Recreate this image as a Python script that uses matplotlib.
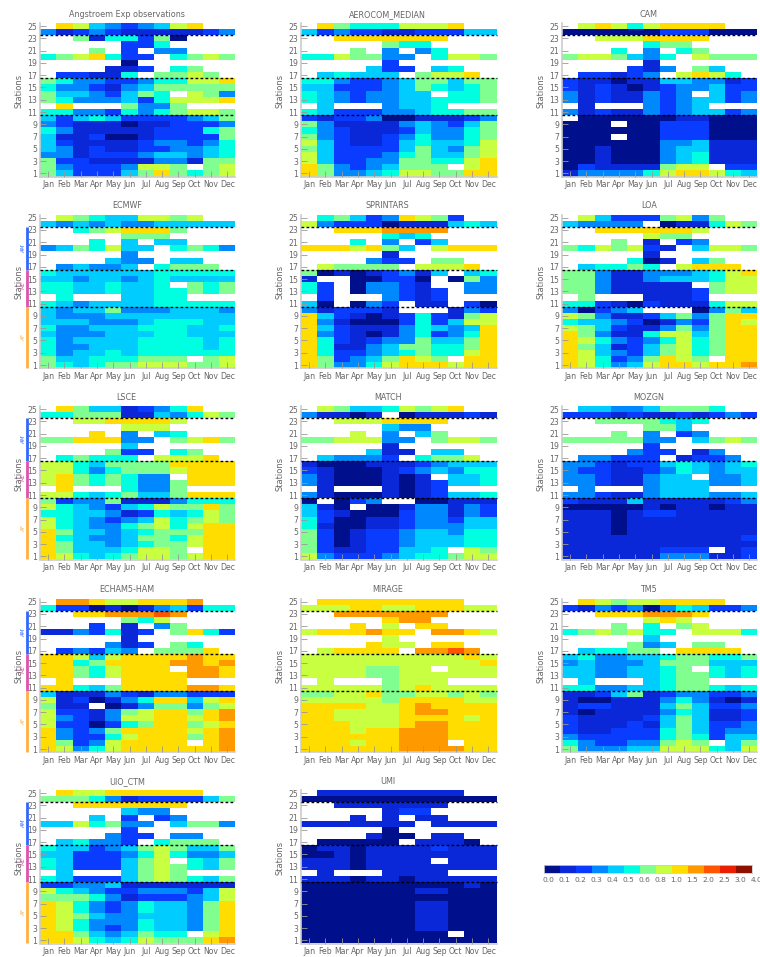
import numpy as np
import matplotlib
matplotlib.use("Agg")
import matplotlib.pyplot as plt
from matplotlib.colors import ListedColormap, BoundaryNorm

# Colour class of each cell, station 25 (top) down to station 1, Jan..Dec
# 0-9 and a are classes of the colour bar, . is no data
obs = [".874323478..", "312321111123", "..6155260...", ".....225....", "...6.2.33...",
       "5678522.5676", ".....0......", "....112.56..", ".22115.6676.", "653322355778",
       "533213466666", "64432465.763", "653334257778", ".8...6336...", "553325356776",
       "424542222346", "321110112223", "531111122256", "411200122226", "421111233235",
       "431211223345", "331222344345", "622111133166", "632223776.67", "642224686567"]
median = [".865557778..", "423221122244", "..8888888...", ".....655....", "...6.3.35...",
          "5576633.5776", ".....2......", "....422.45..", ".45444.6778.", "553223466466",
          "442223465456", "54323344.556", "543233445556", ".4...3445...", "542223345566",
          "212230011123", "631111343246", "532111243356", "632112353356", "742112454457",
          "642222464367", "742223564467", "742233665578", "863234666.78", "863345776688"]
cam = [".787578888..", "000000222000", "..7778888...", ".....566....", "...5.3.56...",
       "6776435.7666", ".....1......", "....213.64..", ".22123.7875.", "211011443312",
       "212101233422", "31211323.423", "312113234423", ".1...3234...", "312113234423",
       ".00000011000", "000.00222000", "000000222000", "000.00222000", "000000334111",
       "001000344111", "001000345111", "001000345111", "021111677.22", "133335788754"]
ecmwf = [".765447767..", "434343344444", "..5678886...", ".....666....", "...5.4.44...",
         "3465744.5653", ".....3......", "....433.44..", ".34334.5666.", "544444455555",
         "443443454444", "55445445.656", "554454455656", ".5...4455...", "543444455555",
         "434463334443", "433344444444", "444333455544", "533444555445", "433344455444",
         "534444555545", "533444555545", "534454555555", "644555666.67", "654566777667"]
sprintars = [".564238762..", "732220111454", "..8889999...", ".....545....", "...5.3.24...",
             "8887864.7888", ".....1......", "....322.66..", ".76666.7778.", "601012314.45",
             "1..00220.063", "52.03321..33", "52.033212.33", ".2...3212...", "40.032.11.20",
             "312221...132", "842101252167", "831000252477", "842111354348", "832101352358",
             "852123364468", "851134665568", "852234565578", "862346876.88", "863357888788"]
loa = [".742226736..", "43333.011576", "..8888887...", ".....766....", "...6.1.23...",
       "6576721.4776", ".....1......", "....501.46..", ".45565.7888.", "663113334578",
       "663113444577", "66311111.677", "663111112677", ".6...1112...", "552102111577",
       "30234...0364", "763112463688", "544320132687", "764211363688", "863115774688",
       "875323575688", "864124675688", "874324675688", "875236876.88", "875347887889"]
lsce = [".864412358..", "556661143576", "..7788887...", ".....777....", "...8.3.45...",
        "6688833.6786", ".....4......", "....622.56..", ".56555.7778.", "775466668888",
        "775356667888", "78656533.888", "786565336888", ".8...5336...", "775456446888",
        "623361113555", "754324576686", "554431254576", "754323475676", "754335675788",
        "864434566688", "854334665788", "864434566788", "864445776.88", "875456776788"]
match = [".764457678..", "31101.011121", "..7778888...", ".....433....", "...7.3.46...",
         "6677733.6776", ".....1......", "....411.44..", ".43332.5667.", "100011123444",
         "210001234355", "31000101.445", "310001012445", ".1...1012...", "310001012445",
         "0.023..00111", "410.00133132", "421000233132", "520011233244", "510011233344",
         "620122344355", "620122344455", "620122344455", "621122445.76", "732223455677"]
mozgn = [".443346665..", "222121121232", "..6666545...", ".....664....", "...6.3.23...",
         "6666633.4676", ".....2......", "....322.13..", ".33222.1223.", "332122454345",
         "322112354344", "33211344.334", "332113444334", ".3...3444...", "332113444334",
         "211141111123", "000001011011", "111012211111", "111011111111", "111011111111",
         "111011111111", "111111111112", "111111111111", "111111222.12", "111111333112"]
echam = [".998778889..", "522010134255", "..88999a9...", ".....657....", "...2.1.36...",
         "1132512.6852", ".....1......", "....312.65..", ".23243.6668.", "887478888988",
         "885688889989", "88657888.998", "886578888998", ".8...8888...", "885468888998",
         "411132133222", "712013588478", "611.01366367", "722136788689", "732137788789",
         "722025688678", "832368888789", "832257888689", "862378888.89", "873578888889"]
mirage = [".888888888..", "777887788877", "..9999999...", ".....899....", "...8.7.88...",
          "7888988.9987", ".....7......", "....877.88..", ".78888.99a9.", "777777777787",
          "777777777778", "77776677.777", "777766777777", ".7...6777...", "777776787777",
          "667786677676", "777776888877", "888877898888", "887777899888", "887777888878",
          "888777899888", "888788999888", "888888999888", "888788999.88", "888888999988"]
tm5 = [".876778888..", "213230354223", "..8889998...", ".....787....", "...6.5.67...",
       "5676755.7775", ".....4......", "....634.66..", ".45566.8888.", "453344566556",
       "343334666444", "44334456.545", "443344566545", ".4...4566...", "553344566545",
       "112461233223", "100111353101", "122111464223", "101111354112", "211112464112",
       "211121464223", "211222564233", "322222565244", "532233676.46", "633344777547"]
uio = [".877888888..", "666531222246", "..8888888...", ".....433....", "...4.2.23...",
       "4475633.4663", ".....2......", "....322.33..", ".45332.5666.", "544234676446",
       "442223575334", "54222467.546", "542224676546", ".4...4676...", "542224676546",
       "223341111111", "754322333247", "666531222347", "875323544368", "875323544368",
       "876433444368", "875333544368", "875323544368", "886434655.78", "887545766689"]
umi = [".111111111..", "000000000000", "..1111111...", ".....122....", "...1.1.11...",
       "1111111.1111", ".....0......", "....100.11..", ".00000.1110.", "011011112111",
       "001011111111", "11101111.111", "111011111111", ".1...1111...", "111011011111",
       "000000000010", "000000011000", "000000000000", "000000011000", "000000011000",
       "000000011000", "000000011000", "000000011000", "000000000.00", "000000000000"]

titles = ["Angstroem Exp observations", "AEROCOM_MEDIAN", "CAM", "ECMWF", "SPRINTARS", "LOA",
          "LSCE", "MATCH", "MOZGN", "ECHAM5-HAM", "MIRAGE", "TM5", "UIO_CTM", "UMI"]
panels = [obs, median, cam, ecmwf, sprintars, loa, lsce, match, mozgn, echam, mirage, tm5, uio, umi]
months = ["Jan", "Feb", "Mar", "Apr", "May", "Jun", "Jul", "Aug", "Sep", "Oct", "Nov", "Dec"]
bar_labels = ["0.0", "0.1", "0.2", "0.3", "0.4", "0.5", "0.6", "0.8", "1.0", "1.5", "2.0", "2.5", "3.0", "4.0"]
bar_colors = ["#000f8c", "#0a28d8", "#0a3cff", "#0088ff", "#00ccff", "#00ffe0", "#80ff90",
              "#c8ff40", "#ffdd00", "#ff9900", "#ff5500", "#e82000", "#901000"]
regions = [("AM", 16.5, 23.5, 20, "#3068ff"), ("ME", 10.5, 16.5, 14, "#e050b0"), ("AF", 0.5, 10.5, 5.5, "#ffb040")]
separators = [10.5, 16.5, 23.5]

W, H = 760, 957
GREY = "#666666"
cmap = ListedColormap(bar_colors)
norm = BoundaryNorm(np.arange(14) - 0.5, cmap.N)
cmap.set_bad("white")

# pixel boxes of the panel grid
col_left = [40, 301, 562]
row_top = [23, 214.6, 406, 598.6, 790]
ax_w, ax_h = 195.5, 153.5


def parse(rows):
    grid = [[np.nan if c == "." else int(c, 16) for c in r] for r in rows]
    return np.ma.masked_invalid(np.array(grid, dtype=float)[::-1])


fig = plt.figure(figsize=(W / 100, H / 100), dpi=100)
x_edges = np.arange(13) + 0.5
y_edges = np.arange(26) + 0.5

for i, (name, rows) in enumerate(zip(titles, panels)):
    r, c = divmod(i, 3)
    ax = fig.add_axes([col_left[c] / W, 1 - (row_top[r] + ax_h) / H, ax_w / W, ax_h / H])
    ax.pcolormesh(x_edges, y_edges, parse(rows), cmap=cmap, norm=norm)
    for y in separators:
        ax.plot([0.5, 12.5], [y, y], color="black", lw=1, dashes=(2, 1.6), clip_on=False, zorder=5)
    ax.set_xlim(0.5, 12.5)
    ax.set_ylim(0.5, 25.5)
    ax.set_xticks(np.arange(1, 13))
    ax.set_xticklabels(months)
    ax.set_yticks(np.arange(1, 26, 2))
    ax.tick_params(direction="in", length=4, width=0.6, color="#999999", labelcolor=GREY,
                   labelsize=5.6, pad=2)
    ax.tick_params(axis="x", pad=2.5)
    ax.set_axisbelow(False)
    for side in ["top", "right"]:
        ax.spines[side].set_visible(False)
    for side in ["left", "bottom"]:
        ax.spines[side].set_color("#cccccc")
        ax.spines[side].set_linewidth(1.2)
    ax.set_title(name, x=0.444, pad=4.5, fontsize=5.8, color=GREY)
    ax.set_ylabel("Stations", fontsize=6, color=GREY, y=0.56, labelpad=3)
    # region bars only on the left column from the second row down
    if c == 0 and r > 0:
        for label, y0, y1, ytext, color in regions:
            ax.plot([-0.066, -0.066], [y0, y1], color=color, lw=2, solid_capstyle="butt",
                    transform=ax.get_yaxis_transform(), clip_on=False)
            ax.text(-0.083, ytext, label, color=color, fontsize=4, rotation=90, style="italic",
                    ha="center", va="center", transform=ax.get_yaxis_transform())

cax = fig.add_axes([543.5 / W, 1 - 872.7 / H, 208.5 / W, 7.7 / H])
cax.pcolormesh(np.arange(14), [0, 1], np.arange(13).reshape(1, -1), cmap=cmap, norm=norm)
cax.set_xticks([])
cax.set_yticks([])
for side in cax.spines.values():
    side.set_color("#cccccc")
    side.set_linewidth(0.6)
for k, label in enumerate(bar_labels):
    cax.text(k + 0.29, -0.55, label, ha="center", va="top", fontsize=5.4, color=GREY, clip_on=False)

fig.savefig("out.png", dpi=100)
